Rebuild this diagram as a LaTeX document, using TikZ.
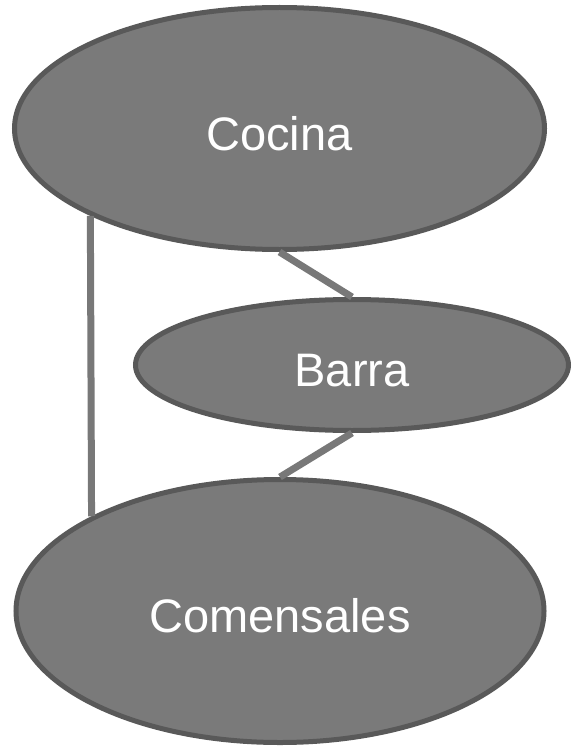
\documentclass[tikz,border=0pt]{standalone}
\usepackage{fontspec}
\setmainfont{Liberation Sans}
\usetikzlibrary{shapes.geometric}
\definecolor{relleno}{HTML}{7A7A7A}
\definecolor{borde}{HTML}{595959}
\definecolor{enlace}{HTML}{787878}
\begin{document}
\begin{tikzpicture}[
        x=1pt, y=-1pt,
        area/.style={ellipse, draw=borde, fill=relleno, line width=5pt, inner sep=0pt,
            text=white, text height=43pt, text depth=0pt, font=\fontsize{47}{56}\selectfont},
        enlace/.style={draw=enlace, line width=7pt}
    ]
    \useasboundingbox (0,0) rectangle (572,749);

        % Zonas
        \node[area, minimum width=530pt, minimum height=242pt] (cocina) at (279.5,128.5) {Cocina};
        \node[area, minimum width=433pt, minimum height=131pt] (barra) at (352,365) {Barra};
        \node[area, minimum width=528pt, minimum height=263pt] (comensales) at (280,611) {Comensales};

        % Conexiones
        \draw[enlace] (cocina.south west) -- (comensales.north west);
        \draw[enlace] (cocina.south) -- (barra.north);
        \draw[enlace] (barra.south) -- (comensales.north);

    \end{tikzpicture}
\end{document}
